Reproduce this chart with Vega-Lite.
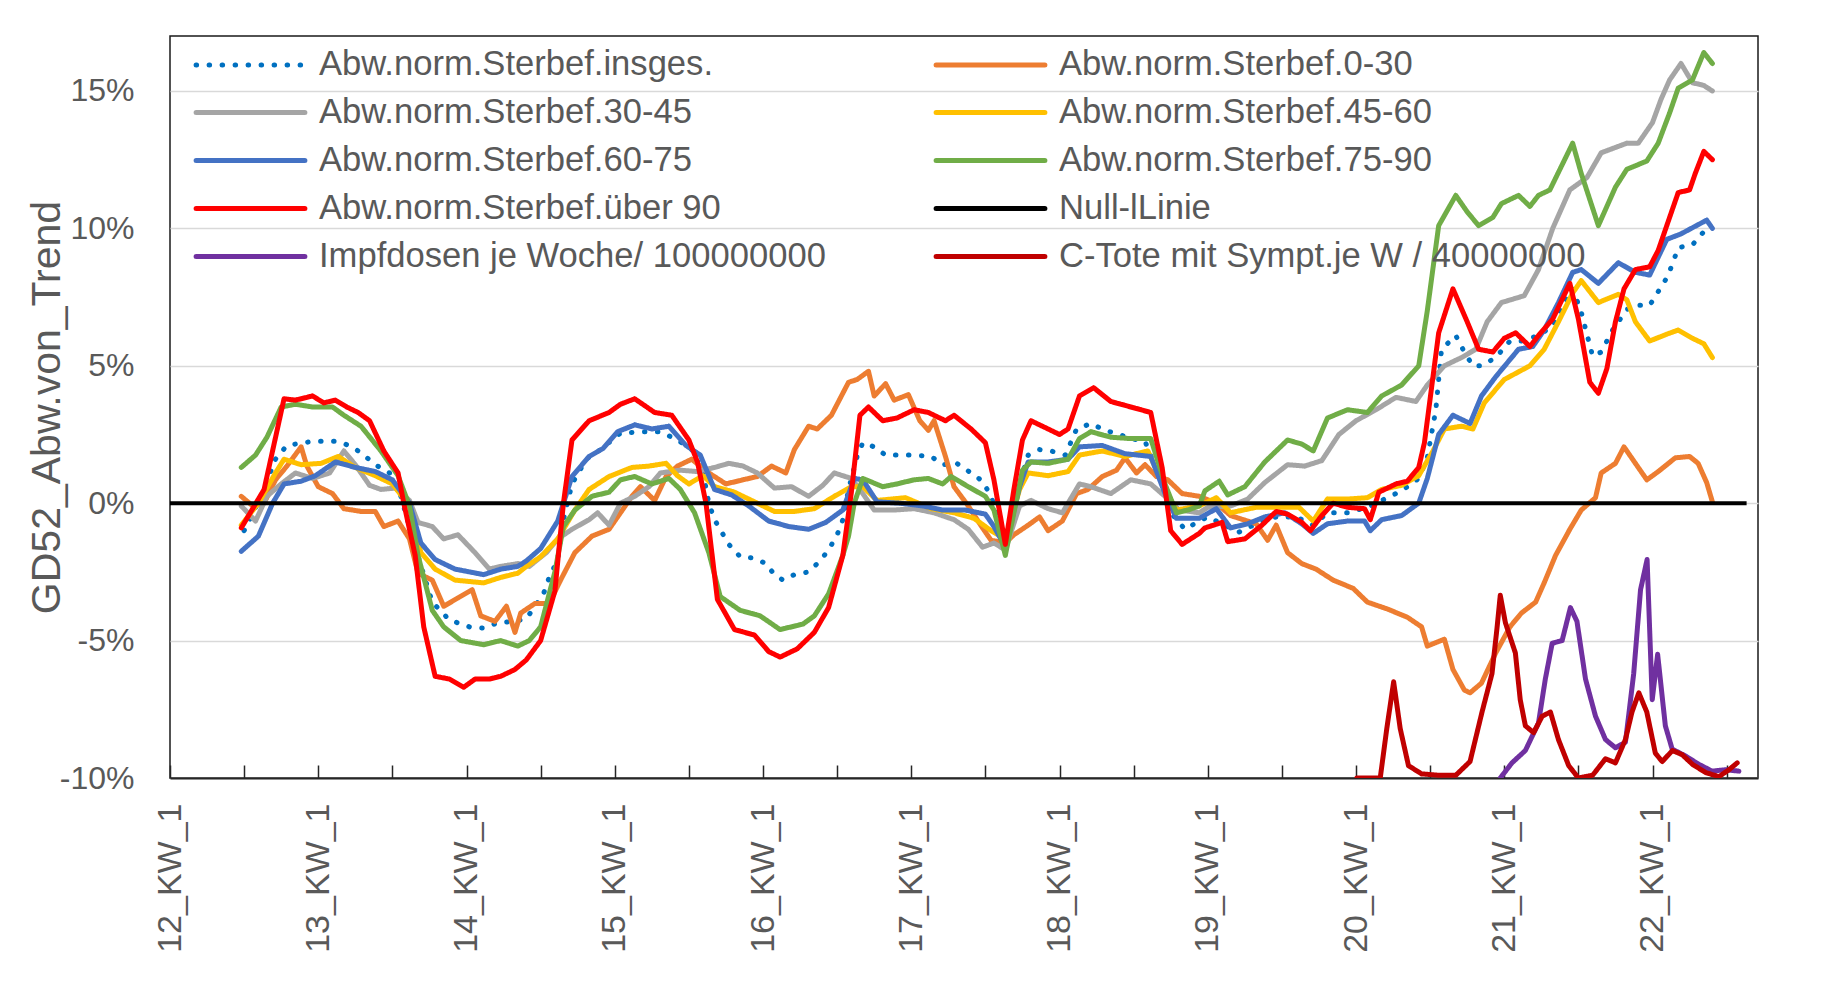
{
"$schema":"https://vega.github.io/schema/vega-lite/v6.json",
"width":1588,"height":742,
"autosize":{"type":"none"},
"padding":{"left":170,"top":36,"right":68,"bottom":228},
"background":"white",
"config":{"view":{"stroke":"#1a1a1a","strokeWidth":1.5},"font":"Liberation Sans",
 "legend":{"title":null,"orient":"none","legendX":26,"legendY":9,"columns":2,"direction":"horizontal","columnPadding":100,"rowPadding":11,
  "symbolType":"M-3.2,0H3.2","symbolSize":1156,"symbolStrokeWidth":5,"symbolOffset":35,"labelFont":"Liberation Sans","labelFontSize":34.6,
  "labelColor":"#595959","labelOffset":49,"labelLimit":800}},
"datasets":{
"main":[
{"s":"ins","w":26,"v":-1.0},{"s":"ins","w":32,"v":0.25},{"s":"ins","w":37,"v":1.6},{"s":"ins","w":41,"v":2.1},{"s":"ins","w":50,"v":2.25},{"s":"ins","w":59,"v":2.25},{"s":"ins","w":64,"v":2.05},{"s":"ins","w":68,"v":1.75},{"s":"ins","w":72,"v":1.4},{"s":"ins","w":77,"v":1.1},{"s":"ins","w":81,"v":0.25},{"s":"ins","w":86,"v":-1.6},{"s":"ins","w":92,"v":-3.6},{"s":"ins","w":98,"v":-4.25},{"s":"ins","w":105,"v":-4.5},{"s":"ins","w":110,"v":-4.55},{"s":"ins","w":115,"v":-4.35},{"s":"ins","w":121,"v":-4.3},{"s":"ins","w":125,"v":-4.2},{"s":"ins","w":128,"v":-3.75},{"s":"ins","w":131,"v":-3.3},{"s":"ins","w":133,"v":-2.7},{"s":"ins","w":136,"v":-2.05},{"s":"ins","w":138,"v":-0.6},{"s":"ins","w":141,"v":0.7},{"s":"ins","w":146,"v":1.6},{"s":"ins","w":151,"v":1.95},{"s":"ins","w":158,"v":2.55},{"s":"ins","w":167,"v":2.6},{"s":"ins","w":172,"v":2.6},{"s":"ins","w":178,"v":2.3},{"s":"ins","w":183,"v":1.95},{"s":"ins","w":187,"v":1.1},{"s":"ins","w":189,"v":0.0},{"s":"ins","w":191,"v":-0.6},{"s":"ins","w":196,"v":-1.5},{"s":"ins","w":200,"v":-1.95},{"s":"ins","w":205,"v":-2.0},{"s":"ins","w":209,"v":-2.2},{"s":"ins","w":212,"v":-2.6},{"s":"ins","w":215,"v":-2.8},{"s":"ins","w":219,"v":-2.6},{"s":"ins","w":224,"v":-2.5},{"s":"ins","w":228,"v":-2.1},{"s":"ins","w":231,"v":-1.7},{"s":"ins","w":234,"v":-1.15},{"s":"ins","w":236,"v":-0.6},{"s":"ins","w":238,"v":0.5},{"s":"ins","w":241,"v":1.7},{"s":"ins","w":243,"v":2.2},{"s":"ins","w":247,"v":2.05},{"s":"ins","w":251,"v":1.75},{"s":"ins","w":257,"v":1.75},{"s":"ins","w":261,"v":1.75},{"s":"ins","w":267,"v":1.7},{"s":"ins","w":271,"v":1.4},{"s":"ins","w":276,"v":1.45},{"s":"ins","w":281,"v":1.1},{"s":"ins","w":285,"v":0.8},{"s":"ins","w":288,"v":0.25},{"s":"ins","w":293,"v":-1.35},{"s":"ins","w":298,"v":0.7},{"s":"ins","w":301,"v":1.75},{"s":"ins","w":305,"v":1.95},{"s":"ins","w":309,"v":1.9},{"s":"ins","w":314,"v":1.75},{"s":"ins","w":318,"v":2.7},{"s":"ins","w":323,"v":2.9},{"s":"ins","w":328,"v":2.65},{"s":"ins","w":333,"v":2.5},{"s":"ins","w":337,"v":2.35},{"s":"ins","w":342,"v":2.25},{"s":"ins","w":347,"v":0.97},{"s":"ins","w":351,"v":-0.35},{"s":"ins","w":356,"v":-0.95},{"s":"ins","w":361,"v":-0.65},{"s":"ins","w":364,"v":-0.5},{"s":"ins","w":369,"v":-0.75},{"s":"ins","w":375,"v":-1.05},{"s":"ins","w":381,"v":-0.75},{"s":"ins","w":388,"v":-0.5},{"s":"ins","w":395,"v":-0.5},{"s":"ins","w":401,"v":-0.8},{"s":"ins","w":406,"v":-0.35},{"s":"ins","w":413,"v":-0.35},{"s":"ins","w":420,"v":-0.15},{"s":"ins","w":426,"v":0.15},{"s":"ins","w":432,"v":0.45},{"s":"ins","w":438,"v":0.9},{"s":"ins","w":441,"v":1.65},{"s":"ins","w":444,"v":3.4},{"s":"ins","w":446,"v":5.6},{"s":"ins","w":451,"v":6.1},{"s":"ins","w":454,"v":5.5},{"s":"ins","w":457,"v":5.0},{"s":"ins","w":460,"v":5.0},{"s":"ins","w":465,"v":5.3},{"s":"ins","w":470,"v":5.9},{"s":"ins","w":474,"v":5.9},{"s":"ins","w":480,"v":6.1},{"s":"ins","w":485,"v":6.45},{"s":"ins","w":489,"v":7.3},{"s":"ins","w":492,"v":7.8},{"s":"ins","w":495,"v":6.95},{"s":"ins","w":499,"v":5.35},{"s":"ins","w":502,"v":5.5},{"s":"ins","w":506,"v":6.3},{"s":"ins","w":511,"v":7.05},{"s":"ins","w":515,"v":7.2},{"s":"ins","w":519,"v":7.2},{"s":"ins","w":522,"v":7.7},{"s":"ins","w":525,"v":8.2},{"s":"ins","w":527,"v":8.7},{"s":"ins","w":529,"v":9.3},{"s":"ins","w":534,"v":9.4},{"s":"ins","w":539,"v":10.0},{"s":"ins","w":541,"v":9.95},
{"s":"a0","w":25,"v":0.25},{"s":"a0","w":29,"v":-0.1},{"s":"a0","w":33,"v":0},{"s":"a0","w":37,"v":0.85},{"s":"a0","w":41,"v":1.35},{"s":"a0","w":46,"v":2.05},{"s":"a0","w":48,"v":1.35},{"s":"a0","w":52,"v":0.6},{"s":"a0","w":57,"v":0.35},{"s":"a0","w":61,"v":-0.2},{"s":"a0","w":67,"v":-0.3},{"s":"a0","w":72,"v":-0.3},{"s":"a0","w":75,"v":-0.85},{"s":"a0","w":80,"v":-0.65},{"s":"a0","w":84,"v":-1.3},{"s":"a0","w":87,"v":-2.55},{"s":"a0","w":92,"v":-2.8},{"s":"a0","w":96,"v":-3.75},{"s":"a0","w":101,"v":-3.45},{"s":"a0","w":106,"v":-3.15},{"s":"a0","w":109,"v":-4.1},{"s":"a0","w":114,"v":-4.3},{"s":"a0","w":118,"v":-3.75},{"s":"a0","w":121,"v":-4.7},{"s":"a0","w":123,"v":-4.0},{"s":"a0","w":128,"v":-3.65},{"s":"a0","w":133,"v":-3.65},{"s":"a0","w":137,"v":-2.8},{"s":"a0","w":142,"v":-1.8},{"s":"a0","w":148,"v":-1.2},{"s":"a0","w":154,"v":-0.95},{"s":"a0","w":158,"v":-0.35},{"s":"a0","w":162,"v":0.25},{"s":"a0","w":165,"v":0.6},{"s":"a0","w":170,"v":0.1},{"s":"a0","w":174,"v":0.97},{"s":"a0","w":178,"v":1.35},{"s":"a0","w":183,"v":1.6},{"s":"a0","w":189,"v":1.1},{"s":"a0","w":195,"v":0.7},{"s":"a0","w":201,"v":0.85},{"s":"a0","w":206,"v":0.97},{"s":"a0","w":211,"v":1.35},{"s":"a0","w":216,"v":1.1},{"s":"a0","w":219,"v":1.95},{"s":"a0","w":224,"v":2.8},{"s":"a0","w":227,"v":2.7},{"s":"a0","w":232,"v":3.2},{"s":"a0","w":236,"v":4.0},{"s":"a0","w":238,"v":4.4},{"s":"a0","w":241,"v":4.5},{"s":"a0","w":245,"v":4.8},{"s":"a0","w":247,"v":3.9},{"s":"a0","w":251,"v":4.35},{"s":"a0","w":254,"v":3.75},{"s":"a0","w":259,"v":3.95},{"s":"a0","w":263,"v":3.0},{"s":"a0","w":266,"v":2.65},{"s":"a0","w":268,"v":3.0},{"s":"a0","w":272,"v":1.7},{"s":"a0","w":275,"v":0.6},{"s":"a0","w":280,"v":-0.1},{"s":"a0","w":285,"v":-0.9},{"s":"a0","w":288,"v":-1.35},{"s":"a0","w":293,"v":-1.45},{"s":"a0","w":296,"v":-1.15},{"s":"a0","w":301,"v":-0.8},{"s":"a0","w":305,"v":-0.5},{"s":"a0","w":308,"v":-1.0},{"s":"a0","w":313,"v":-0.65},{"s":"a0","w":318,"v":0.35},{"s":"a0","w":322,"v":0.5},{"s":"a0","w":327,"v":0.97},{"s":"a0","w":332,"v":1.2},{"s":"a0","w":335,"v":1.65},{"s":"a0","w":339,"v":1.1},{"s":"a0","w":342,"v":1.4},{"s":"a0","w":346,"v":0.97},{"s":"a0","w":350,"v":0.85},{"s":"a0","w":355,"v":0.35},{"s":"a0","w":361,"v":0.25},{"s":"a0","w":367,"v":0},{"s":"a0","w":372,"v":-0.45},{"s":"a0","w":381,"v":-0.75},{"s":"a0","w":385,"v":-1.35},{"s":"a0","w":388,"v":-0.8},{"s":"a0","w":392,"v":-1.8},{"s":"a0","w":397,"v":-2.2},{"s":"a0","w":402,"v":-2.4},{"s":"a0","w":408,"v":-2.8},{"s":"a0","w":415,"v":-3.1},{"s":"a0","w":420,"v":-3.6},{"s":"a0","w":427,"v":-3.85},{"s":"a0","w":434,"v":-4.15},{"s":"a0","w":439,"v":-4.5},{"s":"a0","w":441,"v":-5.2},{"s":"a0","w":447,"v":-4.95},{"s":"a0","w":450,"v":-6.05},{"s":"a0","w":454,"v":-6.8},{"s":"a0","w":456,"v":-6.9},{"s":"a0","w":460,"v":-6.55},{"s":"a0","w":465,"v":-5.45},{"s":"a0","w":470,"v":-4.5},{"s":"a0","w":474,"v":-4.0},{"s":"a0","w":479,"v":-3.6},{"s":"a0","w":482,"v":-2.9},{"s":"a0","w":486,"v":-1.9},{"s":"a0","w":491,"v":-0.95},{"s":"a0","w":495,"v":-0.25},{"s":"a0","w":500,"v":0.2},{"s":"a0","w":502,"v":1.1},{"s":"a0","w":507,"v":1.45},{"s":"a0","w":510,"v":2.05},{"s":"a0","w":513,"v":1.6},{"s":"a0","w":518,"v":0.85},{"s":"a0","w":522,"v":1.15},{"s":"a0","w":528,"v":1.65},{"s":"a0","w":533,"v":1.7},{"s":"a0","w":536,"v":1.45},{"s":"a0","w":539,"v":0.75},{"s":"a0","w":541,"v":0.05},
{"s":"a30","w":25,"v":-0.1},{"s":"a30","w":30,"v":-0.65},{"s":"a30","w":34,"v":0.25},{"s":"a30","w":39,"v":0.7},{"s":"a30","w":44,"v":1.1},{"s":"a30","w":50,"v":0.9},{"s":"a30","w":56,"v":1.1},{"s":"a30","w":61,"v":1.9},{"s":"a30","w":65,"v":1.4},{"s":"a30","w":70,"v":0.65},{"s":"a30","w":74,"v":0.5},{"s":"a30","w":79,"v":0.55},{"s":"a30","w":84,"v":0.1},{"s":"a30","w":87,"v":-0.7},{"s":"a30","w":92,"v":-0.85},{"s":"a30","w":96,"v":-1.3},{"s":"a30","w":101,"v":-1.15},{"s":"a30","w":107,"v":-1.8},{"s":"a30","w":112,"v":-2.4},{"s":"a30","w":116,"v":-2.3},{"s":"a30","w":122,"v":-2.2},{"s":"a30","w":126,"v":-2.3},{"s":"a30","w":132,"v":-1.8},{"s":"a30","w":136,"v":-1.3},{"s":"a30","w":141,"v":-0.95},{"s":"a30","w":147,"v":-0.6},{"s":"a30","w":150,"v":-0.35},{"s":"a30","w":154,"v":-0.8},{"s":"a30","w":158,"v":0.0},{"s":"a30","w":163,"v":0.25},{"s":"a30","w":168,"v":0.6},{"s":"a30","w":172,"v":1.1},{"s":"a30","w":179,"v":1.2},{"s":"a30","w":185,"v":1.15},{"s":"a30","w":191,"v":1.3},{"s":"a30","w":196,"v":1.45},{"s":"a30","w":201,"v":1.35},{"s":"a30","w":206,"v":1.1},{"s":"a30","w":212,"v":0.55},{"s":"a30","w":218,"v":0.6},{"s":"a30","w":224,"v":0.25},{"s":"a30","w":229,"v":0.65},{"s":"a30","w":233,"v":1.1},{"s":"a30","w":239,"v":0.9},{"s":"a30","w":243,"v":0.35},{"s":"a30","w":247,"v":-0.25},{"s":"a30","w":254,"v":-0.25},{"s":"a30","w":261,"v":-0.2},{"s":"a30","w":268,"v":-0.35},{"s":"a30","w":275,"v":-0.6},{"s":"a30","w":280,"v":-0.95},{"s":"a30","w":285,"v":-1.6},{"s":"a30","w":289,"v":-1.45},{"s":"a30","w":293,"v":-1.7},{"s":"a30","w":298,"v":-0.1},{"s":"a30","w":302,"v":0.1},{"s":"a30","w":308,"v":-0.2},{"s":"a30","w":313,"v":-0.35},{"s":"a30","w":319,"v":0.7},{"s":"a30","w":323,"v":0.6},{"s":"a30","w":330,"v":0.35},{"s":"a30","w":337,"v":0.85},{"s":"a30","w":344,"v":0.7},{"s":"a30","w":349,"v":0.25},{"s":"a30","w":354,"v":-0.25},{"s":"a30","w":361,"v":-0.35},{"s":"a30","w":364,"v":-0.15},{"s":"a30","w":372,"v":-0.1},{"s":"a30","w":378,"v":0.15},{"s":"a30","w":384,"v":0.75},{"s":"a30","w":392,"v":1.4},{"s":"a30","w":398,"v":1.35},{"s":"a30","w":404,"v":1.55},{"s":"a30","w":410,"v":2.5},{"s":"a30","w":416,"v":3.0},{"s":"a30","w":423,"v":3.4},{"s":"a30","w":430,"v":3.85},{"s":"a30","w":437,"v":3.7},{"s":"a30","w":441,"v":4.3},{"s":"a30","w":447,"v":5.0},{"s":"a30","w":453,"v":5.3},{"s":"a30","w":458,"v":5.6},{"s":"a30","w":462,"v":6.6},{"s":"a30","w":467,"v":7.3},{"s":"a30","w":475,"v":7.55},{"s":"a30","w":480,"v":8.5},{"s":"a30","w":485,"v":10.0},{"s":"a30","w":491,"v":11.4},{"s":"a30","w":497,"v":11.85},{"s":"a30","w":502,"v":12.75},{"s":"a30","w":511,"v":13.1},{"s":"a30","w":515,"v":13.1},{"s":"a30","w":520,"v":13.85},{"s":"a30","w":523,"v":14.7},{"s":"a30","w":526,"v":15.4},{"s":"a30","w":530,"v":16.0},{"s":"a30","w":534,"v":15.3},{"s":"a30","w":538,"v":15.2},{"s":"a30","w":541,"v":15.0},
{"s":"a45","w":25,"v":-0.8},{"s":"a45","w":31,"v":0.0},{"s":"a45","w":37,"v":1.1},{"s":"a45","w":40,"v":1.6},{"s":"a45","w":46,"v":1.4},{"s":"a45","w":53,"v":1.45},{"s":"a45","w":59,"v":1.7},{"s":"a45","w":65,"v":1.3},{"s":"a45","w":72,"v":1.0},{"s":"a45","w":78,"v":0.7},{"s":"a45","w":84,"v":-0.1},{"s":"a45","w":88,"v":-1.8},{"s":"a45","w":93,"v":-2.4},{"s":"a45","w":100,"v":-2.8},{"s":"a45","w":110,"v":-2.9},{"s":"a45","w":116,"v":-2.7},{"s":"a45","w":122,"v":-2.55},{"s":"a45","w":125,"v":-2.3},{"s":"a45","w":130,"v":-1.95},{"s":"a45","w":136,"v":-1.3},{"s":"a45","w":142,"v":-0.25},{"s":"a45","w":147,"v":0.5},{"s":"a45","w":154,"v":0.97},{"s":"a45","w":162,"v":1.3},{"s":"a45","w":168,"v":1.35},{"s":"a45","w":174,"v":1.45},{"s":"a45","w":178,"v":1.0},{"s":"a45","w":182,"v":0.7},{"s":"a45","w":187,"v":1.0},{"s":"a45","w":191,"v":0.6},{"s":"a45","w":198,"v":0.4},{"s":"a45","w":205,"v":0.05},{"s":"a45","w":212,"v":-0.3},{"s":"a45","w":219,"v":-0.3},{"s":"a45","w":226,"v":-0.2},{"s":"a45","w":233,"v":0.25},{"s":"a45","w":239,"v":0.6},{"s":"a45","w":243,"v":0.6},{"s":"a45","w":248,"v":0.1},{"s":"a45","w":258,"v":0.2},{"s":"a45","w":267,"v":-0.2},{"s":"a45","w":275,"v":-0.35},{"s":"a45","w":282,"v":-0.55},{"s":"a45","w":288,"v":-1.0},{"s":"a45","w":293,"v":-1.3},{"s":"a45","w":298,"v":0.5},{"s":"a45","w":301,"v":1.1},{"s":"a45","w":308,"v":1.0},{"s":"a45","w":315,"v":1.15},{"s":"a45","w":319,"v":1.75},{"s":"a45","w":327,"v":1.9},{"s":"a45","w":335,"v":1.7},{"s":"a45","w":343,"v":1.9},{"s":"a45","w":349,"v":0.5},{"s":"a45","w":353,"v":-0.25},{"s":"a45","w":361,"v":-0.1},{"s":"a45","w":367,"v":0.2},{"s":"a45","w":372,"v":-0.35},{"s":"a45","w":381,"v":-0.15},{"s":"a45","w":388,"v":-0.15},{"s":"a45","w":396,"v":-0.15},{"s":"a45","w":401,"v":-0.65},{"s":"a45","w":406,"v":0.15},{"s":"a45","w":413,"v":0.15},{"s":"a45","w":420,"v":0.2},{"s":"a45","w":425,"v":0.5},{"s":"a45","w":432,"v":0.65},{"s":"a45","w":438,"v":1.0},{"s":"a45","w":443,"v":1.9},{"s":"a45","w":447,"v":2.7},{"s":"a45","w":453,"v":2.8},{"s":"a45","w":457,"v":2.7},{"s":"a45","w":461,"v":3.65},{"s":"a45","w":468,"v":4.5},{"s":"a45","w":477,"v":5.0},{"s":"a45","w":482,"v":5.6},{"s":"a45","w":487,"v":6.6},{"s":"a45","w":492,"v":7.65},{"s":"a45","w":495,"v":8.1},{"s":"a45","w":501,"v":7.3},{"s":"a45","w":508,"v":7.6},{"s":"a45","w":511,"v":7.4},{"s":"a45","w":514,"v":6.6},{"s":"a45","w":519,"v":5.9},{"s":"a45","w":525,"v":6.15},{"s":"a45","w":529,"v":6.3},{"s":"a45","w":534,"v":6.0},{"s":"a45","w":538,"v":5.8},{"s":"a45","w":541,"v":5.3},
{"s":"a60","w":25,"v":-1.75},{"s":"a60","w":31,"v":-1.2},{"s":"a60","w":36,"v":0.0},{"s":"a60","w":40,"v":0.7},{"s":"a60","w":46,"v":0.8},{"s":"a60","w":51,"v":1.0},{"s":"a60","w":58,"v":1.5},{"s":"a60","w":65,"v":1.3},{"s":"a60","w":72,"v":1.15},{"s":"a60","w":78,"v":0.85},{"s":"a60","w":84,"v":0.0},{"s":"a60","w":88,"v":-1.45},{"s":"a60","w":93,"v":-2.05},{"s":"a60","w":100,"v":-2.4},{"s":"a60","w":110,"v":-2.6},{"s":"a60","w":116,"v":-2.4},{"s":"a60","w":122,"v":-2.3},{"s":"a60","w":125,"v":-2.1},{"s":"a60","w":130,"v":-1.65},{"s":"a60","w":136,"v":-0.65},{"s":"a60","w":141,"v":0.97},{"s":"a60","w":147,"v":1.7},{"s":"a60","w":152,"v":2.0},{"s":"a60","w":157,"v":2.6},{"s":"a60","w":163,"v":2.85},{"s":"a60","w":169,"v":2.7},{"s":"a60","w":175,"v":2.8},{"s":"a60","w":181,"v":2.1},{"s":"a60","w":186,"v":1.75},{"s":"a60","w":191,"v":0.5},{"s":"a60","w":197,"v":0.3},{"s":"a60","w":203,"v":-0.1},{"s":"a60","w":210,"v":-0.65},{"s":"a60","w":217,"v":-0.85},{"s":"a60","w":224,"v":-0.95},{"s":"a60","w":230,"v":-0.7},{"s":"a60","w":236,"v":-0.25},{"s":"a60","w":240,"v":0.9},{"s":"a60","w":243,"v":0.85},{"s":"a60","w":248,"v":0.05},{"s":"a60","w":256,"v":0.0},{"s":"a60","w":264,"v":-0.1},{"s":"a60","w":271,"v":-0.25},{"s":"a60","w":279,"v":-0.25},{"s":"a60","w":286,"v":-0.4},{"s":"a60","w":289,"v":-0.85},{"s":"a60","w":293,"v":-1.6},{"s":"a60","w":298,"v":0.6},{"s":"a60","w":301,"v":1.5},{"s":"a60","w":308,"v":1.5},{"s":"a60","w":315,"v":1.6},{"s":"a60","w":319,"v":2.05},{"s":"a60","w":327,"v":2.1},{"s":"a60","w":335,"v":1.8},{"s":"a60","w":344,"v":1.7},{"s":"a60","w":349,"v":0.35},{"s":"a60","w":353,"v":-0.55},{"s":"a60","w":361,"v":-0.55},{"s":"a60","w":367,"v":-0.2},{"s":"a60","w":372,"v":-0.9},{"s":"a60","w":378,"v":-0.75},{"s":"a60","w":384,"v":-0.5},{"s":"a60","w":391,"v":-0.35},{"s":"a60","w":397,"v":-0.75},{"s":"a60","w":401,"v":-1.1},{"s":"a60","w":406,"v":-0.75},{"s":"a60","w":413,"v":-0.65},{"s":"a60","w":419,"v":-0.65},{"s":"a60","w":421,"v":-1.0},{"s":"a60","w":425,"v":-0.6},{"s":"a60","w":432,"v":-0.45},{"s":"a60","w":438,"v":0.0},{"s":"a60","w":441,"v":0.9},{"s":"a60","w":445,"v":2.5},{"s":"a60","w":450,"v":3.2},{"s":"a60","w":454,"v":3.0},{"s":"a60","w":456,"v":2.9},{"s":"a60","w":460,"v":3.9},{"s":"a60","w":465,"v":4.6},{"s":"a60","w":473,"v":5.6},{"s":"a60","w":478,"v":5.7},{"s":"a60","w":482,"v":6.3},{"s":"a60","w":487,"v":7.3},{"s":"a60","w":492,"v":8.4},{"s":"a60","w":495,"v":8.5},{"s":"a60","w":501,"v":8.0},{"s":"a60","w":508,"v":8.75},{"s":"a60","w":514,"v":8.4},{"s":"a60","w":519,"v":8.3},{"s":"a60","w":525,"v":9.6},{"s":"a60","w":530,"v":9.8},{"s":"a60","w":539,"v":10.3},{"s":"a60","w":541,"v":10.0},
{"s":"a75","w":25,"v":1.3},{"s":"a75","w":30,"v":1.75},{"s":"a75","w":34,"v":2.4},{"s":"a75","w":39,"v":3.5},{"s":"a75","w":44,"v":3.6},{"s":"a75","w":50,"v":3.5},{"s":"a75","w":57,"v":3.5},{"s":"a75","w":61,"v":3.2},{"s":"a75","w":67,"v":2.8},{"s":"a75","w":74,"v":1.9},{"s":"a75","w":80,"v":1.0},{"s":"a75","w":84,"v":-0.1},{"s":"a75","w":87,"v":-1.9},{"s":"a75","w":92,"v":-3.9},{"s":"a75","w":96,"v":-4.5},{"s":"a75","w":102,"v":-5.0},{"s":"a75","w":110,"v":-5.15},{"s":"a75","w":116,"v":-5.0},{"s":"a75","w":122,"v":-5.2},{"s":"a75","w":126,"v":-5.0},{"s":"a75","w":130,"v":-4.5},{"s":"a75","w":135,"v":-2.5},{"s":"a75","w":138,"v":-0.85},{"s":"a75","w":142,"v":-0.25},{"s":"a75","w":148,"v":0.25},{"s":"a75","w":154,"v":0.4},{"s":"a75","w":158,"v":0.85},{"s":"a75","w":163,"v":0.97},{"s":"a75","w":169,"v":0.7},{"s":"a75","w":175,"v":0.9},{"s":"a75","w":179,"v":0.5},{"s":"a75","w":184,"v":-0.35},{"s":"a75","w":189,"v":-1.8},{"s":"a75","w":193,"v":-3.4},{"s":"a75","w":200,"v":-3.9},{"s":"a75","w":207,"v":-4.1},{"s":"a75","w":214,"v":-4.6},{"s":"a75","w":222,"v":-4.4},{"s":"a75","w":226,"v":-4.1},{"s":"a75","w":231,"v":-3.3},{"s":"a75","w":236,"v":-1.9},{"s":"a75","w":238,"v":-1.2},{"s":"a75","w":240,"v":0.0},{"s":"a75","w":243,"v":0.9},{"s":"a75","w":250,"v":0.6},{"s":"a75","w":255,"v":0.7},{"s":"a75","w":261,"v":0.85},{"s":"a75","w":266,"v":0.9},{"s":"a75","w":271,"v":0.7},{"s":"a75","w":274,"v":0.97},{"s":"a75","w":280,"v":0.6},{"s":"a75","w":286,"v":0.25},{"s":"a75","w":289,"v":-0.25},{"s":"a75","w":293,"v":-1.9},{"s":"a75","w":296,"v":-0.35},{"s":"a75","w":299,"v":1.2},{"s":"a75","w":302,"v":1.5},{"s":"a75","w":308,"v":1.45},{"s":"a75","w":315,"v":1.6},{"s":"a75","w":319,"v":2.35},{"s":"a75","w":323,"v":2.6},{"s":"a75","w":330,"v":2.4},{"s":"a75","w":337,"v":2.35},{"s":"a75","w":344,"v":2.35},{"s":"a75","w":349,"v":0.7},{"s":"a75","w":353,"v":-0.35},{"s":"a75","w":357,"v":-0.25},{"s":"a75","w":361,"v":-0.1},{"s":"a75","w":363,"v":0.45},{"s":"a75","w":368,"v":0.8},{"s":"a75","w":371,"v":0.3},{"s":"a75","w":377,"v":0.6},{"s":"a75","w":384,"v":1.5},{"s":"a75","w":392,"v":2.3},{"s":"a75","w":397,"v":2.15},{"s":"a75","w":401,"v":1.9},{"s":"a75","w":406,"v":3.1},{"s":"a75","w":413,"v":3.4},{"s":"a75","w":420,"v":3.3},{"s":"a75","w":425,"v":3.9},{"s":"a75","w":432,"v":4.3},{"s":"a75","w":438,"v":5.0},{"s":"a75","w":441,"v":7.0},{"s":"a75","w":445,"v":10.1},{"s":"a75","w":451,"v":11.2},{"s":"a75","w":455,"v":10.6},{"s":"a75","w":459,"v":10.1},{"s":"a75","w":464,"v":10.4},{"s":"a75","w":467,"v":10.9},{"s":"a75","w":473,"v":11.2},{"s":"a75","w":477,"v":10.8},{"s":"a75","w":480,"v":11.2},{"s":"a75","w":484,"v":11.4},{"s":"a75","w":492,"v":13.1},{"s":"a75","w":495,"v":12.0},{"s":"a75","w":501,"v":10.1},{"s":"a75","w":507,"v":11.5},{"s":"a75","w":511,"v":12.15},{"s":"a75","w":518,"v":12.45},{"s":"a75","w":522,"v":13.1},{"s":"a75","w":526,"v":14.2},{"s":"a75","w":529,"v":15.1},{"s":"a75","w":534,"v":15.4},{"s":"a75","w":538,"v":16.4},{"s":"a75","w":541,"v":16.0},
{"s":"a90","w":25,"v":-0.9},{"s":"a90","w":33,"v":0.5},{"s":"a90","w":40,"v":3.8},{"s":"a90","w":44,"v":3.75},{"s":"a90","w":50,"v":3.9},{"s":"a90","w":54,"v":3.65},{"s":"a90","w":58,"v":3.75},{"s":"a90","w":62,"v":3.5},{"s":"a90","w":66,"v":3.3},{"s":"a90","w":70,"v":3.0},{"s":"a90","w":75,"v":1.9},{"s":"a90","w":80,"v":1.1},{"s":"a90","w":82,"v":0.0},{"s":"a90","w":86,"v":-1.9},{"s":"a90","w":89,"v":-4.5},{"s":"a90","w":93,"v":-6.3},{"s":"a90","w":98,"v":-6.4},{"s":"a90","w":103,"v":-6.7},{"s":"a90","w":107,"v":-6.4},{"s":"a90","w":112,"v":-6.4},{"s":"a90","w":116,"v":-6.3},{"s":"a90","w":121,"v":-6.05},{"s":"a90","w":125,"v":-5.7},{"s":"a90","w":130,"v":-5.0},{"s":"a90","w":135,"v":-3.2},{"s":"a90","w":138,"v":0.0},{"s":"a90","w":141,"v":2.3},{"s":"a90","w":147,"v":3.0},{"s":"a90","w":154,"v":3.3},{"s":"a90","w":158,"v":3.6},{"s":"a90","w":163,"v":3.8},{"s":"a90","w":170,"v":3.3},{"s":"a90","w":176,"v":3.2},{"s":"a90","w":182,"v":2.3},{"s":"a90","w":185,"v":1.5},{"s":"a90","w":188,"v":0.0},{"s":"a90","w":192,"v":-3.5},{"s":"a90","w":198,"v":-4.6},{"s":"a90","w":205,"v":-4.8},{"s":"a90","w":210,"v":-5.4},{"s":"a90","w":214,"v":-5.6},{"s":"a90","w":220,"v":-5.3},{"s":"a90","w":226,"v":-4.7},{"s":"a90","w":231,"v":-3.8},{"s":"a90","w":236,"v":-1.9},{"s":"a90","w":239,"v":0.4},{"s":"a90","w":242,"v":3.2},{"s":"a90","w":245,"v":3.5},{"s":"a90","w":250,"v":3.0},{"s":"a90","w":255,"v":3.1},{"s":"a90","w":261,"v":3.4},{"s":"a90","w":266,"v":3.3},{"s":"a90","w":272,"v":3.0},{"s":"a90","w":275,"v":3.2},{"s":"a90","w":281,"v":2.7},{"s":"a90","w":286,"v":2.2},{"s":"a90","w":289,"v":0.85},{"s":"a90","w":293,"v":-1.5},{"s":"a90","w":296,"v":0.5},{"s":"a90","w":299,"v":2.3},{"s":"a90","w":302,"v":3.0},{"s":"a90","w":308,"v":2.7},{"s":"a90","w":312,"v":2.5},{"s":"a90","w":315,"v":2.7},{"s":"a90","w":319,"v":3.9},{"s":"a90","w":324,"v":4.2},{"s":"a90","w":330,"v":3.7},{"s":"a90","w":337,"v":3.5},{"s":"a90","w":344,"v":3.3},{"s":"a90","w":348,"v":1.3},{"s":"a90","w":351,"v":-1.0},{"s":"a90","w":355,"v":-1.5},{"s":"a90","w":361,"v":-1.1},{"s":"a90","w":363,"v":-0.9},{"s":"a90","w":369,"v":-0.7},{"s":"a90","w":371,"v":-1.4},{"s":"a90","w":377,"v":-1.3},{"s":"a90","w":383,"v":-0.8},{"s":"a90","w":388,"v":-0.3},{"s":"a90","w":392,"v":-0.4},{"s":"a90","w":397,"v":-0.7},{"s":"a90","w":400,"v":-1.0},{"s":"a90","w":404,"v":-0.45},{"s":"a90","w":408,"v":0.0},{"s":"a90","w":413,"v":-0.15},{"s":"a90","w":419,"v":-0.2},{"s":"a90","w":421,"v":-0.6},{"s":"a90","w":424,"v":0.4},{"s":"a90","w":430,"v":0.7},{"s":"a90","w":434,"v":0.8},{"s":"a90","w":438,"v":1.3},{"s":"a90","w":440,"v":2.2},{"s":"a90","w":443,"v":4.6},{"s":"a90","w":445,"v":6.2},{"s":"a90","w":450,"v":7.8},{"s":"a90","w":455,"v":6.6},{"s":"a90","w":459,"v":5.6},{"s":"a90","w":464,"v":5.5},{"s":"a90","w":468,"v":6.0},{"s":"a90","w":472,"v":6.2},{"s":"a90","w":477,"v":5.7},{"s":"a90","w":480,"v":6.1},{"s":"a90","w":485,"v":6.7},{"s":"a90","w":491,"v":8.0},{"s":"a90","w":494,"v":6.7},{"s":"a90","w":498,"v":4.4},{"s":"a90","w":501,"v":4.0},{"s":"a90","w":504,"v":4.9},{"s":"a90","w":507,"v":6.6},{"s":"a90","w":510,"v":7.8},{"s":"a90","w":514,"v":8.5},{"s":"a90","w":519,"v":8.6},{"s":"a90","w":522,"v":9.2},{"s":"a90","w":526,"v":10.4},{"s":"a90","w":529,"v":11.3},{"s":"a90","w":533,"v":11.4},{"s":"a90","w":535,"v":12.0},{"s":"a90","w":538,"v":12.8},{"s":"a90","w":541,"v":12.5},
{"s":"imp","w":466.6,"v":-10},{"s":"imp","w":470.7,"v":-9.45},{"s":"imp","w":475.4,"v":-9.0},{"s":"imp","w":480,"v":-8.0},{"s":"imp","w":482.4,"v":-6.4},{"s":"imp","w":484.8,"v":-5.1},{"s":"imp","w":488.3,"v":-5.0},{"s":"imp","w":491.2,"v":-3.8},{"s":"imp","w":493.5,"v":-4.3},{"s":"imp","w":496.5,"v":-6.4},{"s":"imp","w":500,"v":-7.75},{"s":"imp","w":503.5,"v":-8.6},{"s":"imp","w":507,"v":-8.9},{"s":"imp","w":510.5,"v":-8.7},{"s":"imp","w":513.4,"v":-6.2},{"s":"imp","w":515.8,"v":-3.15},{"s":"imp","w":518.1,"v":-2.05},{"s":"imp","w":519.9,"v":-7.15},{"s":"imp","w":521.8,"v":-5.5},{"s":"imp","w":524.5,"v":-8.1},{"s":"imp","w":526.9,"v":-8.95},{"s":"imp","w":531.6,"v":-9.2},{"s":"imp","w":536.2,"v":-9.5},{"s":"imp","w":540.9,"v":-9.75},{"s":"imp","w":545.6,"v":-9.7},{"s":"imp","w":550.3,"v":-9.75},
{"s":"ct","w":416.3,"v":-10},{"s":"ct","w":424.5,"v":-10},{"s":"ct","w":426.8,"v":-8.2},{"s":"ct","w":429.2,"v":-6.5},{"s":"ct","w":431.5,"v":-8.2},{"s":"ct","w":434.4,"v":-9.55},{"s":"ct","w":439,"v":-9.85},{"s":"ct","w":445,"v":-9.9},{"s":"ct","w":451,"v":-9.9},{"s":"ct","w":456,"v":-9.4},{"s":"ct","w":460.2,"v":-7.6},{"s":"ct","w":463.7,"v":-6.2},{"s":"ct","w":465.5,"v":-4.5},{"s":"ct","w":466.6,"v":-3.35},{"s":"ct","w":468.4,"v":-4.35},{"s":"ct","w":471.9,"v":-5.45},{"s":"ct","w":473.6,"v":-7.15},{"s":"ct","w":475.4,"v":-8.1},{"s":"ct","w":478.3,"v":-8.35},{"s":"ct","w":481.3,"v":-7.75},{"s":"ct","w":484.2,"v":-7.6},{"s":"ct","w":487,"v":-8.6},{"s":"ct","w":490.6,"v":-9.55},{"s":"ct","w":494,"v":-10.0},{"s":"ct","w":499,"v":-9.9},{"s":"ct","w":503.5,"v":-9.3},{"s":"ct","w":507,"v":-9.45},{"s":"ct","w":510.5,"v":-8.6},{"s":"ct","w":512.8,"v":-7.6},{"s":"ct","w":515.2,"v":-6.9},{"s":"ct","w":518,"v":-7.6},{"s":"ct","w":521,"v":-9.1},{"s":"ct","w":523.4,"v":-9.4},{"s":"ct","w":527,"v":-9.0},{"s":"ct","w":530.4,"v":-9.15},{"s":"ct","w":534,"v":-9.5},{"s":"ct","w":538.6,"v":-9.8},{"s":"ct","w":543.3,"v":-9.95},{"s":"ct","w":546.8,"v":-9.7},{"s":"ct","w":549.7,"v":-9.45}
],
"nl":[{"s":"nul","w":0,"v":0},{"s":"nul","w":553,"v":0}]
},
"encoding":{
"x":{"field":"w","type":"quantitative","scale":{"domain":[0,557],"nice":false,"zero":false},
 "axis":{"values":[0,26,52,78,104,130,156,182,208,234,260,286,312,338,364,390,416,442,468,494,520,546],
  "labelExpr":"datum.value % 52 == 0 ? (12 + datum.value/52) + '_KW_1' : ''",
  "labelAngle":270,"labelFontSize":34,"labelColor":"#595959","labelFont":"Liberation Sans",
  "tickSize":-13,"tickColor":"#262626","tickWidth":1.5,"domainColor":"#262626","domainWidth":2,
  "grid":false,"labelPadding":38,"title":null,"labelFlush":false,"labelOverlap":false,"labelBound":false}},
"y":{"field":"v","type":"quantitative","scale":{"domain":[-10,17],"nice":false,"zero":false},
 "axis":{"values":[-10,-5,0,5,10,15],"labelExpr":"datum.value + '%'","ticks":false,"domain":false,
  "grid":true,"gridColor":"#D9D9D9","gridWidth":1.5,"labelFontSize":32,"labelColor":"#595959","labelFont":"Liberation Sans",
  "labelPadding":36,"title":"GD52_Abw.von_Trend","titleFontSize":41,"titleColor":"#595959","titleFontWeight":"normal","titleFont":"Liberation Sans",
  "titleX":-123,"titleY":371,"titleAngle":270,"titleBaseline":"middle","titleAlign":"center"}},
"color":{"field":"s","type":"nominal",
 "scale":{"domain":["ins","a0","a30","a45","a60","a75","a90","nul","imp","ct"],
  "range":["#0070C0","#ED7D31","#A5A5A5","#FFC000","#4472C4","#70AD47","#FF0000","#000000","#7030A0","#C00000"]},
 "legend":{"encode":{"symbols":{"update":{"strokeCap":{"value":"round"}}}},
  "labelExpr":"datum.value=='ins'?'Abw.norm.Sterbef.insges.':datum.value=='a0'?'Abw.norm.Sterbef.0-30':datum.value=='a30'?'Abw.norm.Sterbef.30-45':datum.value=='a45'?'Abw.norm.Sterbef.45-60':datum.value=='a60'?'Abw.norm.Sterbef.60-75':datum.value=='a75'?'Abw.norm.Sterbef.75-90':datum.value=='a90'?'Abw.norm.Sterbef.über 90':datum.value=='nul'?'Null-lLinie':datum.value=='imp'?'Impfdosen je Woche/ 100000000':'C-Tote mit Sympt.je W / 40000000'"}},
"strokeDash":{"field":"s","type":"nominal",
 "scale":{"domain":["ins","a0","a30","a45","a60","a75","a90","nul","imp","ct"],
  "range":[[0.5,12.5],[1,0],[1,0],[1,0],[1,0],[1,0],[1,0],[1,0],[1,0],[1,0]]},
 "legend":{"encode":{"symbols":{"update":{"strokeCap":{"value":"round"}}}},
  "labelExpr":"datum.value=='ins'?'Abw.norm.Sterbef.insges.':datum.value=='a0'?'Abw.norm.Sterbef.0-30':datum.value=='a30'?'Abw.norm.Sterbef.30-45':datum.value=='a45'?'Abw.norm.Sterbef.45-60':datum.value=='a60'?'Abw.norm.Sterbef.60-75':datum.value=='a75'?'Abw.norm.Sterbef.75-90':datum.value=='a90'?'Abw.norm.Sterbef.über 90':datum.value=='nul'?'Null-lLinie':datum.value=='imp'?'Impfdosen je Woche/ 100000000':'C-Tote mit Sympt.je W / 40000000'"}}
},
"layer":[
{"data":{"name":"main"},"mark":{"type":"line","strokeWidth":5,"strokeCap":"round","strokeJoin":"round","clip":true}},
{"data":{"name":"nl"},"mark":{"type":"line","strokeWidth":4,"strokeCap":"butt","clip":true}}
]
}
